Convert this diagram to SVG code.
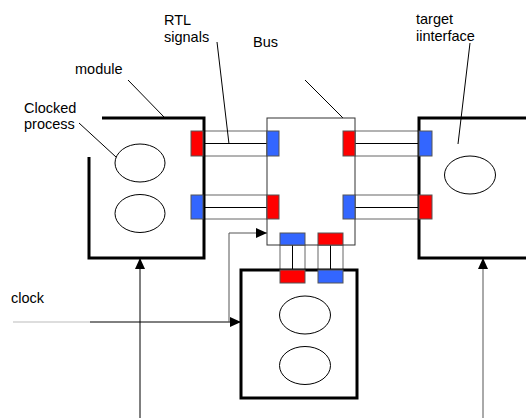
<svg xmlns="http://www.w3.org/2000/svg" width="526" height="418" viewBox="0 0 526 418">
<style>
text { font-family: "Liberation Sans", Arial, sans-serif; font-size: 14.5px; fill: #000; }
.thick { fill: none; stroke: #000; stroke-width: 3; }
.thin { fill: none; stroke: #000; stroke-width: 1; }
.chan { fill: #fff; stroke: #666; stroke-width: 1; }
.mid { stroke: #000; stroke-width: 1; }
.red { fill: #ff0000; stroke: #555; stroke-width: 1; }
.blue { fill: #3366ff; stroke: #555; stroke-width: 1; }
.proc { fill: #fff; stroke: #000; stroke-width: 1; }
.lead { stroke: #000; stroke-width: 1; }
</style>
<defs>
<marker id="arr" markerUnits="userSpaceOnUse" markerWidth="11" markerHeight="10" refX="11" refY="5" orient="auto">
<path d="M0,0 L11,5 L0,10 z" fill="#000"/>
</marker>
</defs>
<rect width="526" height="418" fill="#fff"/>

<g id="connectors">
<rect class="chan" x="203" y="131" width="64" height="25"/>
<line class="mid" x1="203" y1="143.5" x2="267" y2="143.5"/>
<rect class="chan" x="203" y="195" width="64" height="24"/>
<line class="mid" x1="203" y1="207.5" x2="267" y2="207.5"/>
<rect class="chan" x="355" y="131" width="64" height="25"/>
<line class="mid" x1="355" y1="143.5" x2="419" y2="143.5"/>
<rect class="chan" x="355" y="195" width="64" height="24"/>
<line class="mid" x1="355" y1="207.5" x2="419" y2="207.5"/>
<rect class="chan" x="280" y="245" width="25" height="25"/>
<line class="mid" x1="292.5" y1="245" x2="292.5" y2="270"/>
<rect class="chan" x="318" y="245" width="25" height="25"/>
<line class="mid" x1="330.5" y1="245" x2="330.5" y2="270"/>
<line x1="13" y1="322" x2="90" y2="322" stroke="#bbb" stroke-width="1"/>
<line x1="90" y1="322" x2="241" y2="322" stroke="#000" stroke-width="1" marker-end="url(#arr)"/>
<path d="M229,322 V233 H267" fill="none" stroke="#555" stroke-width="1" marker-end="url(#arr)"/>
<line x1="140" y1="418" x2="140" y2="258" stroke="#000" stroke-width="1" marker-end="url(#arr)"/>
<line x1="483" y1="418" x2="483" y2="258" stroke="#555" stroke-width="1" marker-end="url(#arr)"/>
<line class="lead" x1="128" y1="80" x2="164" y2="117"/>
<line class="lead" x1="79" y1="123" x2="116" y2="157"/>
<line class="lead" x1="217" y1="42" x2="229" y2="144"/>
<line class="lead" x1="305" y1="80" x2="343" y2="118"/>
<line class="lead" x1="470" y1="43" x2="458" y2="144"/>
</g>

<g id="module">
<path class="thick" d="M102,118 H204 V258 H89 V157"/>
<ellipse class="proc" cx="140" cy="163" rx="25" ry="19"/>
<ellipse class="proc" cx="140" cy="213.5" rx="25" ry="19"/>
<rect class="red" x="191" y="131" width="12" height="25"/>
<rect class="blue" x="191" y="195" width="12" height="24"/>
</g>

<g id="bus">
<rect x="267" y="118" width="88" height="127" fill="none" stroke="#333" stroke-width="1"/>
<rect class="blue" x="267" y="131" width="12" height="25"/>
<rect class="red" x="267" y="195" width="12" height="24"/>
<rect class="red" x="343" y="131" width="12" height="25"/>
<rect class="blue" x="343" y="195" width="12" height="24"/>
<rect class="blue" x="280" y="233" width="25" height="12"/>
<rect class="red" x="318" y="233" width="25" height="12"/>
</g>

<g id="target">
<rect class="thick" x="419" y="118" width="120" height="140"/>
<ellipse class="proc" cx="470" cy="175" rx="25.5" ry="19"/>
<rect class="blue" x="419" y="131" width="13" height="25"/>
<rect class="red" x="419" y="195" width="13" height="24"/>
</g>

<g id="bottom-module">
<rect class="thick" x="241" y="270" width="116" height="128"/>
<ellipse class="proc" cx="305" cy="315" rx="25.5" ry="19"/>
<ellipse class="proc" cx="305" cy="365.5" rx="25.5" ry="19"/>
<rect class="red" x="280" y="270" width="25" height="13"/>
<rect class="blue" x="318" y="270" width="25" height="13"/>
</g>

<g id="labels">
<text x="164" y="25">RTL</text>
<text x="164" y="42">signals</text>
<text x="253" y="47">Bus</text>
<text x="75" y="74">module</text>
<text x="24" y="113">Clocked</text>
<text x="24" y="129">process</text>
<text x="416" y="24">target</text>
<text x="416" y="41">iinterface</text>
<text x="11" y="303">clock</text>
</g>
</svg>
